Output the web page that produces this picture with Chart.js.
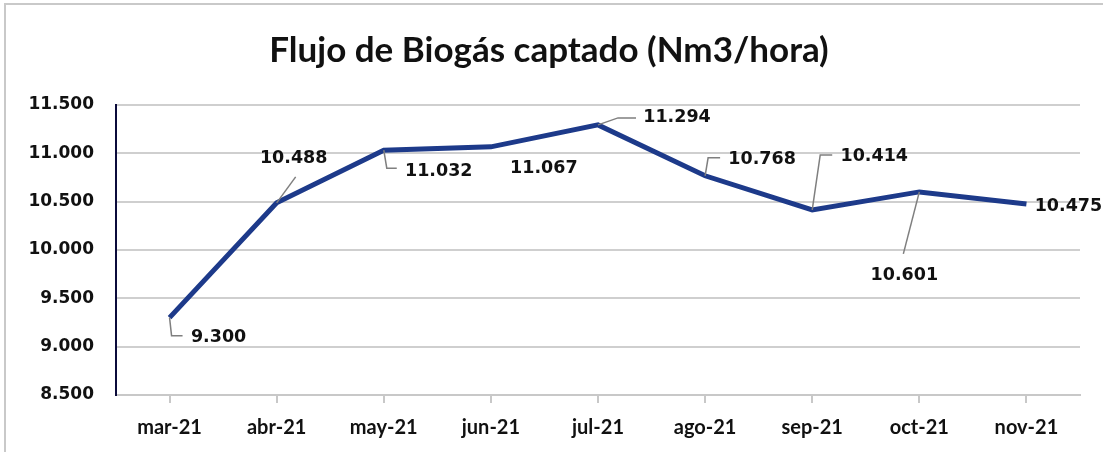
<!DOCTYPE html>
<html>
<head>
<meta charset="utf-8">
<script src="https://cdn.jsdelivr.net/npm/chart.js@4.4.1/dist/chart.umd.min.js"></script>
<style>
  html, body { margin: 0; padding: 0; background: #fff; }
  #wrap { width: 1103px; height: 452px; position: relative; }
</style>
</head>
<body>
<div id="wrap"><canvas id="biogasChart" width="1103" height="452"></canvas></div>
<script>
// datos del gráfico
const meses = ["mar-21", "abr-21", "may-21", "jun-21", "jul-21", "ago-21", "sep-21", "oct-21", "nov-21"];
const flujo = [9300, 10488, 11032, 11067, 11294, 10768, 10414, 10601, 10475];
const yTicks = [8500, 9000, 9500, 10000, 10500, 11000, 11500];

function fmtMiles(v) {
  return String(Math.round(v)).replace(/\B(?=(\d{3})+(?!\d))/g, ".");
}

// posicion de cada etiqueta y su linea guia (relativo al punto)
const etiquetas = [
  { dx: 49, dy: 20, guia: [[0, 0], [2, 18], [13, 18]] },
  { dx: 17, dy: -44, guia: [[0, 0], [19, -26]] },
  { dx: 55, dy: 21, guia: [[0, 0], [3, 18], [13, 18]] },
  { dx: 53, dy: 22, guia: null },
  { dx: 79, dy: -7, guia: [[0, 0], [20, -7], [38, -7]] },
  { dx: 57, dy: -16, guia: [[0, 0], [3, -18], [15, -18]] },
  { dx: 62, dy: -54, guia: [[0, 0], [8, -55], [20, -55]] },
  { dx: -15, dy: 84, guia: [[0, 0], [-16, 62]] },
  { dx: 42, dy: 2, guia: null }
];

const marco = {
  id: "marco",
  beforeDraw(chart) {
    const c = chart.ctx;
    c.save();
    c.fillStyle = "#fff";
    c.fillRect(0, 0, chart.width, chart.height);
    c.strokeStyle = "#c9c9c9";
    c.lineWidth = 2;
    c.strokeRect(5, 4, chart.width + 20, chart.height + 20);
    c.restore();
  }
};

const etiquetasPlugin = {
  id: "etiquetas",
  afterDatasetsDraw(chart) {
    const c = chart.ctx;
    const pts = chart.getDatasetMeta(0).data;
    c.save();
    pts.forEach((p, i) => {
      const e = etiquetas[i];
      if (e.guia) {
        c.strokeStyle = "#7f7f7f";
        c.lineWidth = 1.5;
        c.beginPath();
        e.guia.forEach((g, k) => {
          if (k === 0) c.moveTo(p.x + g[0], p.y + g[1]);
          else c.lineTo(p.x + g[0], p.y + g[1]);
        });
        c.stroke();
      }
      c.fillStyle = "#111";
      c.font = "bold 17.5px 'DejaVu Sans'";
      c.textAlign = "center";
      c.textBaseline = "middle";
      c.fillText(fmtMiles(flujo[i]), p.x + e.dx, p.y + e.dy);
    });
    c.restore();
  }
};

const config = {
  type: "line",
  data: {
    labels: meses,
    datasets: [{
      data: flujo,
      borderColor: "#1d3a8a",
      borderWidth: 5,
      pointRadius: 0,
      tension: 0,
      fill: false
    }]
  },
  options: {
    responsive: false,
    animation: false,
    layout: { padding: { left: 18, right: 23, top: 0, bottom: 0 } },
    plugins: {
      legend: { display: false },
      tooltip: { enabled: false },
      title: {
        display: true,
        text: "Flujo de Biogás captado (Nm3/hora)",
        color: "#111",
        font: { family: "Lato", size: 35, weight: "bold", lineHeight: 1.2 },
        padding: { top: 30, bottom: 33 }
      }
    },
    scales: {
      x: {
        offset: true,
        grid: { drawOnChartArea: false, drawTicks: true, tickLength: 8, color: "#c8c8c8", lineWidth: 2 },
        border: { color: "#c8c8c8", width: 2 },
        ticks: { color: "#111", padding: 13, font: { family: "Lato", size: 20, weight: "bold" } },
        afterFit(s) { s.height = 57; }
      },
      y: {
        min: 8500,
        max: 11500,
        afterBuildTicks(s) { s.ticks = yTicks.map(v => ({ value: v })); },
        grid: { color: "#cfcfcf", lineWidth: 2, drawTicks: false },
        border: { color: "#0b0b3b", width: 2 },
        ticks: {
          color: "#111",
          padding: 22,
          font: { family: "DejaVu Sans", size: 17, weight: "bold" },
          callback: v => fmtMiles(v)
        },
        afterFit(s) { s.width = 98; }
      }
    }
  },
  plugins: [marco, etiquetasPlugin]
};

const ctx = document.getElementById("biogasChart").getContext("2d");
const biogasChart = new Chart(ctx, config);
</script>
</body>
</html>
